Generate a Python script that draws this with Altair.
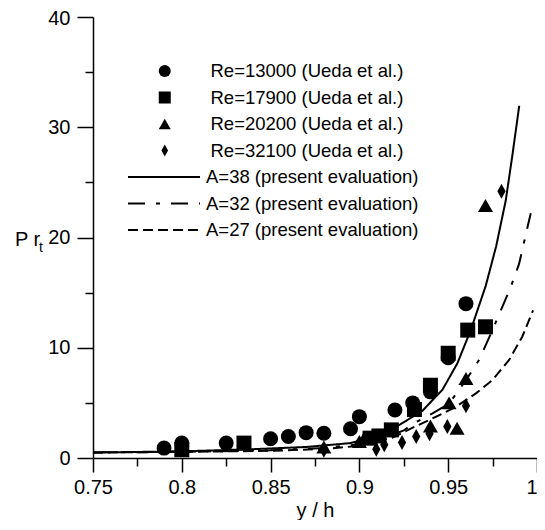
import altair as alt
import pandas as pd

FONT = "Liberation Sans"

# ---- measured data (Ueda et al.) ----
names = ["Re=13000 (Ueda et al.)", "Re=17900 (Ueda et al.)",
         "Re=20200 (Ueda et al.)", "Re=32100 (Ueda et al.)"]

re13000_x = [0.79, 0.80, 0.825, 0.85, 0.86, 0.87, 0.88, 0.895, 0.90, 0.92, 0.93, 0.94, 0.95, 0.96]
re13000_y = [0.9, 1.35, 1.35, 1.75, 1.95, 2.3, 2.25, 2.65, 3.75, 4.35, 5.0, 6.0, 9.1, 14.0]

re17900_x = [0.80, 0.835, 0.906, 0.911, 0.918, 0.931, 0.94, 0.95, 0.961, 0.971]
re17900_y = [0.75, 1.35, 1.8, 2.0, 2.55, 4.4, 6.6, 9.5, 11.6, 11.9]

re20200_x = [0.88, 0.90, 0.903, 0.94, 0.9505, 0.955, 0.96, 0.971]
re20200_y = [1.0, 1.5, 1.9, 2.9, 5.0, 2.7, 7.2, 22.9]

re32100_x = [0.88, 0.9095, 0.914, 0.924, 0.932, 0.9395, 0.9495, 0.96, 0.98]
re32100_y = [0.7, 0.8, 1.2, 1.4, 1.95, 2.2, 2.85, 4.75, 24.2]

# ---- evaluated curves ----
line_names = ["A=38 (present evaluation)", "A=32 (present evaluation)",
              "A=27 (present evaluation)"]

a38_x = [0.75, 0.78, 0.81, 0.84, 0.87, 0.895, 0.91, 0.9225, 0.9356, 0.9468, 0.9552,
         0.9627, 0.9711, 0.977, 0.9824, 0.986, 0.990]
a38_y = [0.5, 0.56, 0.65, 0.8, 1.0, 1.35, 2.0, 3.0, 4.3, 6.2, 8.6,
         11.6, 15.6, 19.2, 23.35, 27.3, 31.95]

a32_x = [0.75, 0.80, 0.85, 0.88, 0.90, 0.915, 0.925, 0.93, 0.9412, 0.9506, 0.96,
         0.9674, 0.9749, 0.9852, 0.9899, 0.9946, 0.9965]
a32_y = [0.5, 0.56, 0.7, 0.9, 1.25, 1.9, 2.5, 3.1, 4.05, 4.95, 7.06,
         8.9, 11.6, 15.5, 17.6, 20.9, 22.2]

a27_x = [0.75, 0.80, 0.85, 0.88, 0.90, 0.9187, 0.93, 0.9431, 0.9543, 0.9656, 0.9749,
         0.9843, 0.9917, 0.9978]
a27_y = [0.5, 0.55, 0.65, 0.82, 1.1, 1.85, 2.75, 3.74, 4.64, 5.86, 7.06,
         8.9, 11.0, 13.4]

x_ticks = [0.75, 0.775, 0.8, 0.825, 0.85, 0.875, 0.9, 0.925, 0.95, 0.975, 1.0]
y_ticks = [0, 5, 10, 15, 20, 25, 30, 35, 40]

pts = pd.concat([
    pd.DataFrame({"x": xs, "y": ys, "series": n})
    for xs, ys, n in zip([re13000_x, re17900_x, re20200_x, re32100_x],
                         [re13000_y, re17900_y, re20200_y, re32100_y], names)
], ignore_index=True)

lines = pd.concat([
    pd.DataFrame({"x": xs, "y": ys, "curve": n})
    for xs, ys, n in zip([a38_x, a32_x, a27_x], [a38_y, a32_y, a27_y], line_names)
], ignore_index=True)

diamond = "M0,-1L0.55,0L0,1L-0.55,0Z"

x_major = "abs(datum.value*20 - round(datum.value*20)) < 0.001"
y_major = "datum.value % 10 == 0"

x_axis = alt.Axis(
    values=x_ticks, grid=False, title="y / h",
    titleFont=FONT, titleFontSize=20, titleFontWeight="normal", titleColor="black",
    titleY=58, titleBaseline="alphabetic",
    labelFont=FONT, labelFontSize=20, labelColor="black",
    labelExpr=f"({x_major}) ? format(datum.value, '.2~f') : ''",
    labelAlign={"condition": {"test": "datum.value >= 0.999", "value": "right"}, "value": "center"},
    labelOverlap=False, labelFlush=False, labelPadding=5,
    tickSize={"condition": {"test": x_major, "value": 14}, "value": 8},
    tickColor="black", tickWidth=1.5, domainColor="black", domainWidth=1.5,
)
y_axis = alt.Axis(
    values=y_ticks, grid=False, title=None,
    labelFont=FONT, labelFontSize=20, labelColor="black",
    labelExpr=f"({y_major}) ? datum.label : ''",
    labelOffset={"condition": {"test": "datum.value >= 40", "value": 1}, "value": 0},
    labelOverlap=False, labelFlush=False, labelPadding=7,
    tickSize={"condition": {"test": y_major, "value": 16}, "value": 8},
    tickColor="black", tickWidth=1.5, domainColor="black", domainWidth=1.5,
)

X = alt.X("x:Q", scale=alt.Scale(domain=[0.75, 1.0], nice=False), axis=x_axis)
Y = alt.Y("y:Q", scale=alt.Scale(domain=[0, 40], nice=False), axis=y_axis)

line_layer = alt.Chart(lines).mark_line(color="black", strokeWidth=2).encode(
    x=X, y=Y,
    strokeDash=alt.StrokeDash(
        "curve:N",
        scale=alt.Scale(domain=line_names, range=[[1, 0], [17, 11, 4, 11], [10, 5]]),
        legend=alt.Legend(
            title=None, orient="none", legendX=34, legendY=150, padding=0,
            symbolType="stroke", symbolSize=5184, symbolStrokeWidth=2,
            symbolStrokeColor="black", labelOffset=5, clipHeight=20, rowPadding=6.5,
            labelFont=FONT, labelFontSize=18.5, labelColor="black", labelLimit=0,
        ),
    ),
)

point_layer = alt.Chart(pts).mark_point(
    filled=True, size=225, opacity=1, color="black", strokeWidth=0
).encode(
    x=X, y=Y,
    shape=alt.Shape(
        "series:N",
        scale=alt.Scale(domain=names, range=["circle", "square", "triangle-up", diamond]),
        legend=alt.Legend(
            title=None, orient="none", legendX=62.5, legendY=44, padding=0,
            symbolSize=144, symbolFillColor="black", symbolStrokeColor="black",
            symbolStrokeWidth=0, labelOffset=36.5, clipHeight=20, rowPadding=6.5,
            labelFont=FONT, labelFontSize=18.5, labelColor="black", labelLimit=0,
        ),
    ),
)

pr_text = alt.Chart(pd.DataFrame({"t": ["P r"]})).mark_text(
    font=FONT, fontSize=20, align="left", baseline="alphabetic", color="black"
).encode(text="t:N", x=alt.value(-78), y=alt.value(229))

sub_text = alt.Chart(pd.DataFrame({"t": ["t"]})).mark_text(
    font=FONT, fontSize=14, align="left", baseline="alphabetic", color="black"
).encode(text="t:N", x=alt.value(-54), y=alt.value(235))

chart = alt.layer(line_layer, point_layer, pr_text, sub_text).properties(
    width=444, height=441,
    padding={"left": 85, "top": 9, "right": 0, "bottom": 62},
    autosize=alt.AutoSizeParams(type="none"),
).configure_view(stroke=None)

chart.save("out.html", embed_options={"renderer": "svg", "actions": False})
